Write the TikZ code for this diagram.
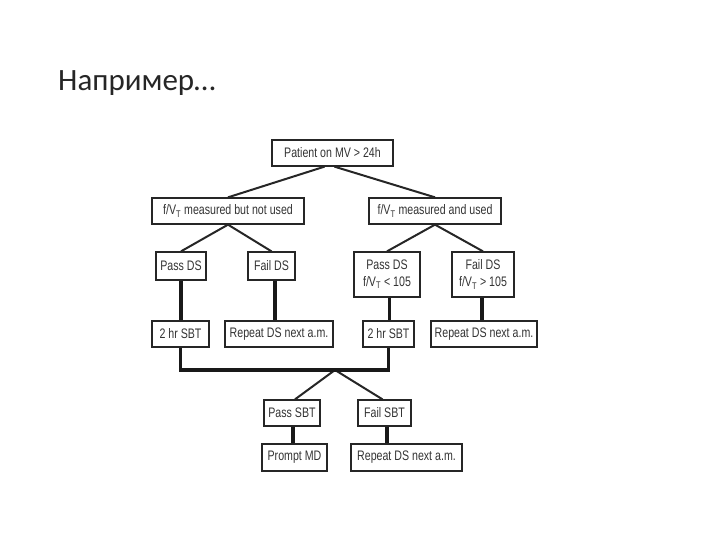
\documentclass[tikz,border=0pt]{standalone}
\usepackage{fontspec}
\setmainfont{Liberation Sans}
\newfontfamily\boxfont[FakeStretch=0.77]{Liberation Sans}
\newfontfamily\titlefont{Carlito}
\begin{document}
\begin{tikzpicture}[x=1pt,y=-1pt,
  bx/.style={draw=black!85, line width=1.3pt, fill=white, inner sep=1pt,
    font=\boxfont\fontsize{13.8}{15}\selectfont, text=black!80, align=center},
  diag/.style={line width=2pt, draw=black!85},
  thick line/.style={line width=3.6pt, draw=black!90}]
\useasboundingbox (0,0) rectangle (720,540);
\node[anchor=base west, inner sep=0pt, font=\titlefont\fontsize{31}{34}\selectfont, text=black!85] (title) at (58,91) {Например…};
\node[bx, minimum width=121, minimum height=26] (top) at (332.5,153) {Patient on MV > 24h};
\node[bx, minimum width=152, minimum height=26] (l2a) at (228,211) {f/V\textsubscript{T} measured but not used};
\node[bx, minimum width=132, minimum height=26] (l2b) at (435,211) {f/V\textsubscript{T} measured and used};
\node[bx, minimum width=50, minimum height=28] (pdsL) at (181,266) {Pass DS};
\node[bx, minimum width=47, minimum height=28] (fdsL) at (271.5,266) {Fail DS};
\node[bx, minimum width=66, minimum height=45] (pdsR) at (387,274.5) {Pass DS\\[2pt] f/V\textsubscript{T} < 105};
\node[bx, minimum width=62, minimum height=45] (fdsR) at (483,274.5) {Fail DS\\[2pt] f/V\textsubscript{T} > 105};
\node[bx, minimum width=57, minimum height=26] (sbtL) at (180.5,334) {2 hr SBT};
\node[bx, minimum width=108, minimum height=26] (repL) at (279,334) {Repeat DS next a.m.};
\node[bx, minimum width=51, minimum height=26] (sbtR) at (388.5,334) {2 hr SBT};
\node[bx, minimum width=106, minimum height=26] (repR) at (484,334) {Repeat DS next a.m.};
\node[bx, minimum width=56, minimum height=26] (psbt) at (292,413) {Pass SBT};
\node[bx, minimum width=53, minimum height=26] (fsbt) at (384.5,413) {Fail SBT};
\node[bx, minimum width=65, minimum height=27] (pmd) at (294.5,457.5) {Prompt MD};
\node[bx, minimum width=111, minimum height=27] (repB) at (406.5,457.5) {Repeat DS next a.m.};
\coordinate (m) at (335,370);
% diagonals
\draw[diag] ([xshift=-8pt]top.south) -- (l2a.north);
\draw[diag] ([xshift=2pt]top.south) -- (l2b.north);
\draw[diag] (l2a.south) -- (pdsL.north);
\draw[diag] (l2a.south) -- (fdsL.north);
\draw[diag] (l2b.south) -- (pdsR.north);
\draw[diag] (l2b.south) -- (fdsR.north);
\draw[diag] (m) -- ([xshift=3pt]psbt.north);
\draw[diag] (m) -- ([xshift=-2pt]fsbt.north);
% thick verticals
\draw[thick line] (pdsL.south) -- (pdsL.south |- sbtL.north);
\draw[thick line] ([xshift=3.5pt]fdsL.south) -- ([xshift=3.5pt]fdsL.south |- repL.north);
\draw[thick line] ([xshift=2.5pt]pdsR.south) -- ([xshift=2.5pt]pdsR.south |- sbtR.north);
\draw[thick line] ([xshift=-1pt]fdsR.south) -- ([xshift=-1pt]fdsR.south |- repR.north);
\draw[thick line] (sbtL.south) -- (sbtL.south |- m) -- (sbtR.south |- m) -- (sbtR.south);
\draw[thick line] ([xshift=1pt]psbt.south) -- ([xshift=1pt]psbt.south |- pmd.north);
\draw[thick line] ([xshift=2.5pt]fsbt.south) -- ([xshift=2.5pt]fsbt.south |- repB.north);
\end{tikzpicture}
\end{document}
